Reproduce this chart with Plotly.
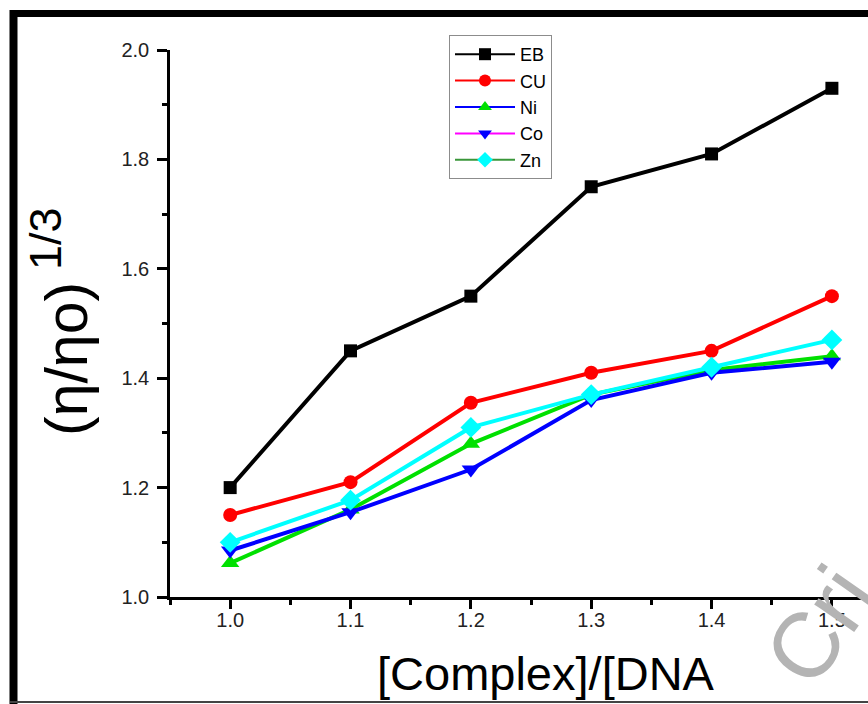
import plotly.graph_objects as go

# ---- data ----
ratio = [1.0, 1.1, 1.2, 1.3, 1.4, 1.5]
eb = [1.20, 1.45, 1.55, 1.75, 1.81, 1.93]
cu = [1.15, 1.21, 1.355, 1.41, 1.45, 1.55]
ni = [1.062, 1.16, 1.28, 1.37, 1.415, 1.44]
co = [1.085, 1.155, 1.233, 1.36, 1.41, 1.43]
zn = [1.10, 1.177, 1.31, 1.37, 1.42, 1.47]
series_names = ["EB", "CU", "Ni", "Co", "Zn"]
x_ticks = [1.0, 1.1, 1.2, 1.3, 1.4, 1.5]
y_ticks = [1.0, 1.2, 1.4, 1.6, 1.8, 2.0]

W, H = 868, 704
L, R, T, B = 170, 0, 50, 107
PW, PH = W - L - R, H - T - B


def px(x):
    return (x - L) / PW


def py(y):
    return (H - B - y) / PH


FONT = "Liberation Sans, Arial, sans-serif"

values = [eb, cu, ni, co, zn]
line_col = ["#000000", "#ff0000", "#00e000", "#0000ff", "#00ffff"]
mark_col = ["#000000", "#ff0000", "#00e000", "#0000ff", "#00ffff"]
symbols = ["square", "circle", "triangle-up", "triangle-down", "diamond"]
msize = [13, 14, 16, 16, 16]
legend_line = ["#000000", "#ff0000", "#0000ff", "#ff00ff", "#3a963a"]
legend_mark = ["#000000", "#ff0000", "#00e000", "#0000ff", "#00ffff"]

fig = go.Figure()
for name, v, lc, mc, s, ms in zip(series_names, values, line_col, mark_col, symbols, msize):
    fig.add_trace(go.Scatter(
        x=ratio, y=v, name=name, mode="lines+markers", showlegend=False,
        line=dict(color=lc, width=4),
        marker=dict(symbol=s, size=ms, color=mc),
        cliponaxis=False,
    ))
for i, name in enumerate(series_names):
    fig.add_trace(go.Scatter(
        x=[None], y=[None], name=name, mode="lines+markers",
        legendgroup=name,
        line=dict(color=legend_line[i], width=2),
        marker=dict(symbol=symbols[i], size=12, color=legend_mark[i]),
    ))

axis_common = dict(
    showline=True, linecolor="black", linewidth=2.5,
    ticks="outside", tickcolor="black", tickwidth=2.5,
    showgrid=False, zeroline=False, mirror=False,
    tickfont=dict(family=FONT, size=20, color="#222222"),
)
fig.update_xaxes(
    range=[0.95, 1.53], tickvals=x_ticks, ticktext=[f"{t:.1f}" for t in x_ticks],
    ticklen=9, ticklabelstandoff=-6,
    minor=dict(dtick=0.05, tick0=1.0, ticks="outside", ticklen=5, tickwidth=2.5, tickcolor="black"),
    **axis_common,
)
fig.update_yaxes(
    range=[1.0, 2.0], tickvals=y_ticks, ticktext=[f"{t:.1f}" for t in y_ticks],
    ticklen=10, ticklabelstandoff=4,
    minor=dict(dtick=0.1, tick0=1.0, ticks="outside", ticklen=5, tickwidth=2.5, tickcolor="black"),
    **axis_common,
)

annotations = [
    dict(text="[Complex]/[DNA", x=px(546), y=py(673), xref="paper", yref="paper",
         showarrow=False, xanchor="center", yanchor="middle",
         font=dict(family=FONT, size=47, color="black")),
    dict(text="(η/ηο)", x=px(67), y=py(359), xref="paper", yref="paper",
         showarrow=False, xanchor="center", yanchor="middle", textangle=-90,
         font=dict(family=FONT, size=59, color="black")),
    dict(text="1/3", x=px(45), y=py(239), xref="paper", yref="paper",
         showarrow=False, xanchor="center", yanchor="middle", textangle=-90,
         font=dict(family=FONT, size=45, color="black")),
    dict(text="Cri", x=px(820), y=py(625), xref="paper", yref="paper",
         showarrow=False, xanchor="center", yanchor="middle", textangle=-55,
         font=dict(family=FONT, size=92, color="#b4b4b4")),
]

shapes = [
    dict(type="line", xref="paper", yref="paper", x0=px(10), x1=px(W + 5), y0=py(13.5), y1=py(13.5),
         line=dict(color="black", width=7), layer="above"),
    dict(type="line", xref="paper", yref="paper", x0=px(13.5), x1=px(13.5), y0=py(10), y1=py(H + 5),
         line=dict(color="black", width=8), layer="above"),
    dict(type="line", xref="paper", yref="paper", x0=px(10), x1=px(W + 5), y0=py(702), y1=py(702),
         line=dict(color="#444444", width=2), layer="above"),
]

fig.update_layout(
    width=W, height=H,
    margin=dict(l=L, r=R, t=T, b=B, pad=0),
    paper_bgcolor="white", plot_bgcolor="white",
    showlegend=True,
    legend=dict(
        x=px(449), y=py(35), xanchor="left", yanchor="top",
        bordercolor="#8c8c8c", borderwidth=1, bgcolor="white",
        font=dict(family=FONT, size=18, color="black"),
        tracegroupgap=0, itemwidth=60,
    ),
    annotations=annotations,
    shapes=shapes,
)

fig.write_html(
    "out.html",
    config={"displayModeBar": False},
    post_script="document.body.style.margin='0px';document.body.style.overflow='hidden';",
)
